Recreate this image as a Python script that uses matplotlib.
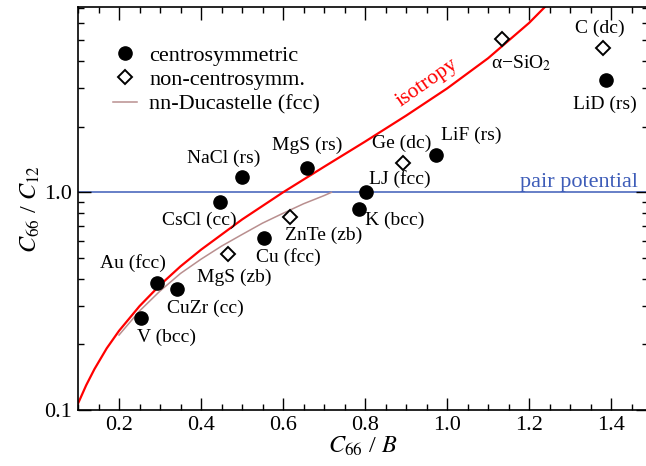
import matplotlib
matplotlib.use("Agg")
import matplotlib.pyplot as plt
from matplotlib.ticker import MultipleLocator, LogLocator, FuncFormatter, NullFormatter

# centrosymmetric crystals (filled circles)
centro_names = ["NaCl (rs)", "MgS (rs)", "CsCl (cc)", "Cu (fcc)", "Au (fcc)", "CuZr (cc)",
                "V (bcc)", "LJ (fcc)", "K (bcc)", "LiF (rs)", "LiD (rs)"]
centro_x = [0.500, 0.659, 0.446, 0.554, 0.293, 0.341, 0.254, 0.802, 0.785, 0.973, 1.388]
centro_y = [1.17, 1.30, 0.90, 0.62, 0.383, 0.359, 0.264, 1.00, 0.836, 1.49, 3.27]

# non-centrosymmetric crystals (open diamonds)
noncentro_names = ["α−SiO$_2$", "C (dc)", "Ge (dc)", "ZnTe (zb)", "MgS (zb)"]
noncentro_x = [1.134, 1.380, 0.893, 0.617, 0.466]
noncentro_y = [5.04, 4.62, 1.37, 0.768, 0.52]

# isotropy curve
iso_x = [0.10, 0.12, 0.14, 0.17, 0.20, 0.25, 0.30, 0.35, 0.40, 0.50, 0.60, 0.70,
         0.80, 0.90, 1.00, 1.10, 1.20, 1.24]
iso_y = [0.107, 0.130, 0.154, 0.192, 0.231, 0.300, 0.375, 0.457, 0.545, 0.75, 1.00, 1.31,
         1.71, 2.25, 3.00, 4.13, 6.00, 7.15]

# nn-Ducastelle (fcc)
duc_x = [0.20, 0.25, 0.30, 0.35, 0.40, 0.45, 0.50, 0.55, 0.60, 0.65, 0.70, 0.718]
duc_y = [0.221, 0.285, 0.352, 0.424, 0.493, 0.566, 0.640, 0.722, 0.801, 0.886, 0.966, 1.0]

pair_level = 1.0

# label offsets (pixels) relative to each marker
centro_offsets = [(-18, 19), (0, 22), (-21, -18), (24, -20), (-24, 20), (29, -19),
                  (25, -19), (34, 13), (36, -11), (35, 19), (-1, -24)]
noncentro_offsets = [(19, -24), (-3, 19), (-1, 19), (34, -18), (6, -23)]

plt.rcParams["font.family"] = ["Liberation Serif", "DejaVu Serif"]
plt.rcParams["mathtext.fontset"] = "stix"

RED = "#ff0000"
BLUE = "#3d5cb8"
BROWN = "#b98f8f"


def main():
    fig = plt.figure(figsize=(6.46, 4.66), dpi=100)
    ax = fig.add_axes([78 / 646, 56 / 466, 570 / 646, 402.7 / 466])
    ax.set_yscale("log")

    ax.plot(iso_x, iso_y, color=RED, linewidth=1.6, zorder=2)
    ax.axhline(pair_level, color=BLUE, linewidth=1.1, zorder=1)

    h_c, = ax.plot(centro_x, centro_y, "o", color="black", markersize=9.5,
                   linestyle="none", label="centrosymmetric", zorder=4)
    h_n, = ax.plot(noncentro_x, noncentro_y, "D", markerfacecolor="white",
                   markeredgecolor="black", markeredgewidth=1.4, markersize=7,
                   linestyle="none", label="non-centrosymm.", zorder=4)
    h_d, = ax.plot(duc_x, duc_y, color=BROWN, linewidth=1.1,
                   label="nn-Ducastelle (fcc)", zorder=2)

    for name, x, y, off in zip(centro_names, centro_x, centro_y, centro_offsets):
        ax.annotate(name, (x, y), xytext=off, textcoords="offset pixels",
                    ha="center", va="center", fontsize=14)
    for name, x, y, off in zip(noncentro_names, noncentro_x, noncentro_y, noncentro_offsets):
        ax.annotate(name, (x, y), xytext=off, textcoords="offset pixels",
                    ha="center", va="center", fontsize=14)

    ax.text(0.951, 3.18, "isotropy", color=RED, fontsize=15.5, rotation=35,
            rotation_mode="anchor", ha="center", va="center")
    ax.annotate("pair potential", (1.178, pair_level), xytext=(0, 5),
                textcoords="offset pixels", color=BLUE, fontsize=16,
                ha="left", va="baseline")

    ax.set_xlim(0.1, 1.49)
    ax.set_ylim(0.1, 7.08)
    ax.xaxis.set_major_locator(MultipleLocator(0.2))
    ax.xaxis.set_minor_locator(MultipleLocator(0.05))
    ax.xaxis.set_major_formatter(FuncFormatter(lambda v, p: f"{v:.1f}"))
    ax.yaxis.set_major_locator(LogLocator(base=10))
    ax.yaxis.set_minor_locator(LogLocator(base=10, subs=range(2, 10)))
    ax.yaxis.set_major_formatter(FuncFormatter(lambda v, p: f"{v:.1f}"))
    ax.yaxis.set_minor_formatter(NullFormatter())

    ax.tick_params(which="both", direction="in", top=True, right=True,
                   labelsize=16, width=1.0)
    ax.tick_params(which="major", length=9, pad=4)
    ax.tick_params(which="minor", length=4.5)
    for sp in ax.spines.values():
        sp.set_linewidth(1.2)

    ax.set_xlabel("$C_{66}$ / $B$", fontsize=17.5, labelpad=0)
    ax.set_ylabel("$C_{66}$ / $C_{12}$", fontsize=17.5, labelpad=2)

    ax.legend(handles=[h_c, h_n, h_d], loc="upper left", bbox_to_anchor=(0.061, 0.905),
              frameon=False, fontsize=16, handlelength=1.1, handletextpad=0.55,
              labelspacing=0.16, borderpad=0, borderaxespad=0)

    fig.savefig("out.png", dpi=100)
    plt.close(fig)


if __name__ == "__main__":
    main()
